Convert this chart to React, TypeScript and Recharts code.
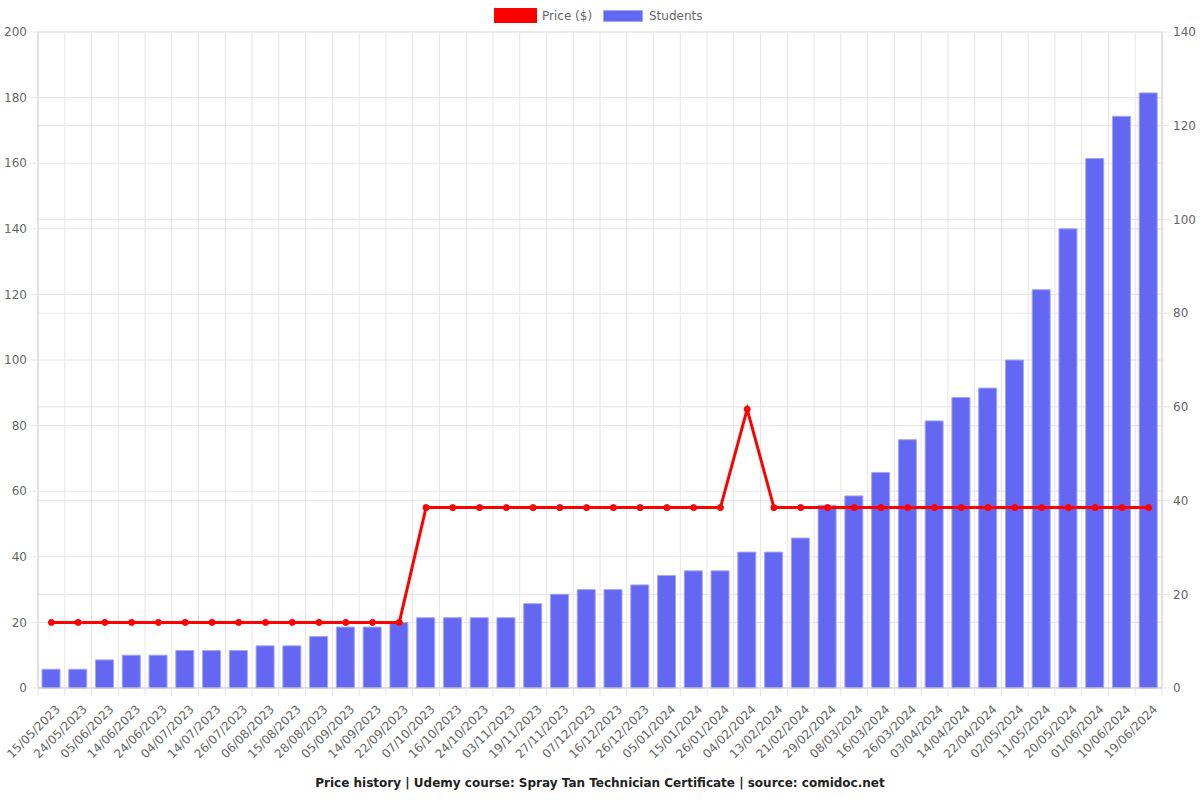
import React from "react";
import { ComposedChart, Bar, Line, XAxis, YAxis, CartesianGrid } from "recharts";

const dates = [
  "15/05/2023", "24/05/2023", "05/06/2023", "14/06/2023", "24/06/2023", "04/07/2023",
  "14/07/2023", "26/07/2023", "06/08/2023", "15/08/2023", "28/08/2023", "05/09/2023",
  "14/09/2023", "22/09/2023", "07/10/2023", "16/10/2023", "24/10/2023", "03/11/2023",
  "19/11/2023", "27/11/2023", "07/12/2023", "16/12/2023", "26/12/2023", "05/01/2024",
  "15/01/2024", "26/01/2024", "04/02/2024", "13/02/2024", "21/02/2024", "29/02/2024",
  "08/03/2024", "16/03/2024", "26/03/2024", "03/04/2024", "14/04/2024", "22/04/2024",
  "02/05/2024", "11/05/2024", "20/05/2024", "01/06/2024", "10/06/2024", "19/06/2024",
];

const price = [
  20, 20, 20, 20, 20, 20, 20, 20, 20, 20, 20, 20, 20, 20,
  55, 55, 55, 55, 55, 55, 55, 55, 55, 55, 55, 55,
  85,
  55, 55, 55, 55, 55, 55, 55, 55, 55, 55, 55, 55, 55, 55, 55,
];

const students = [
  4, 4, 6, 7, 7, 8, 8, 8, 9, 9, 11, 13, 13, 14, 15, 15, 15, 15, 18, 20, 21,
  21, 22, 24, 25, 25, 29, 29, 32, 39, 41, 46, 53, 57, 62, 64, 70, 85, 98, 113, 122, 127,
];

const priceTicks = [0, 20, 40, 60, 80, 100, 120, 140, 160, 180, 200];
const studentTicks = [0, 20, 40, 60, 80, 100, 120, 140];

const data = dates.map((d, i) => ({ date: d, price: price[i], students: students[i] }));

const FONT = "DejaVu Sans, sans-serif";
const GRID = "#e6e6e6";
const AXIS = "#cfcfcf";
const TEXT = "#666";

function XTick(props: any) {
  const { x, y, payload, index } = props;
  const off = payload && typeof payload.offset === "number" ? payload.offset : 0;
  const ax = x + 9.5;
  const ay = y + 14;
  return (
    <g>
      <line x1={x - off} y1={y - 8} x2={x - off} y2={y} stroke={GRID} />
      {index === dates.length - 1 && (
        <line x1={x + off} y1={y - 8} x2={x + off} y2={y} stroke={GRID} />
      )}
      <text
        x={ax}
        y={ay}
        textAnchor="end"
        transform={`rotate(-45, ${ax}, ${ay})`}
        fontSize={12}
        fill={TEXT}
        fontFamily={FONT}
      >
        {payload.value}
      </text>
    </g>
  );
}

export default function App() {
  return (
    <div style={{ position: "absolute", left: 0, top: 0, width: 1200, height: 800, fontFamily: FONT, background: "#fff" }}>
      <ComposedChart
        width={1200}
        height={800}
        data={data}
        margin={{ top: 32, right: 0, left: 0, bottom: 32 }}
      >
        <CartesianGrid
          yAxisId="left"
          stroke={GRID}
          verticalCoordinatesGenerator={({ offset }: any) => {
            const n = dates.length;
            return Array.from({ length: n + 1 }, (_, i) => offset.left + (offset.width * i) / n);
          }}
        />
        <CartesianGrid yAxisId="right" stroke={GRID} vertical={false} />
        <XAxis
          dataKey="date"
          interval={0}
          height={80}
          tickLine={false}
          tickSize={8}
          tickMargin={0}
          axisLine={{ stroke: AXIS }}
          tick={<XTick />}
        />
        <YAxis
          yAxisId="left"
          orientation="left"
          width={38}
          domain={[0, 200]}
          ticks={priceTicks}
          interval={0}
          tickSize={8}
          tickMargin={3}
          axisLine={{ stroke: AXIS }}
          tickLine={{ stroke: GRID }}
          tick={{ fontSize: 12, fill: TEXT, fontFamily: FONT }}
        />
        <YAxis
          yAxisId="right"
          orientation="right"
          width={38}
          domain={[0, 140]}
          ticks={studentTicks}
          interval={0}
          tickSize={8}
          tickMargin={3}
          axisLine={{ stroke: AXIS }}
          tickLine={{ stroke: GRID }}
          tick={{ fontSize: 12, fill: TEXT, fontFamily: FONT }}
        />
        <Bar
          yAxisId="right"
          dataKey="students"
          name="Students"
          barSize={18}
          fill="#6467f2"
          stroke="#a3a5f8"
          strokeWidth={1}
          isAnimationActive={false}
        />
        <Line
          yAxisId="left"
          dataKey="price"
          name="Price ($)"
          type="linear"
          stroke="#ff0000"
          strokeWidth={3}
          dot={{ r: 3, fill: "#ff0000", stroke: "#ff0000", strokeWidth: 1 }}
          activeDot={false}
          isAnimationActive={false}
        />
      </ComposedChart>

      <div style={{ position: "absolute", left: 494, top: 8, width: 43, height: 15, background: "#ff0000" }} />
      <div style={{ position: "absolute", left: 542, top: 7, height: 18, lineHeight: "18px", fontSize: 12, color: TEXT, whiteSpace: "nowrap" }}>
        Price ($)
      </div>
      <div style={{ position: "absolute", left: 603, top: 10, width: 38, height: 10, background: "#6467f2", border: "1px solid #a3a5f8" }} />
      <div style={{ position: "absolute", left: 649, top: 7, height: 18, lineHeight: "18px", fontSize: 12, color: TEXT, whiteSpace: "nowrap" }}>
        Students
      </div>

      <div style={{ position: "absolute", left: 0, top: 774, width: 1200, textAlign: "center", fontSize: 12, fontWeight: "bold", color: "#222", lineHeight: "18px" }}>
        Price history | Udemy course: Spray Tan Technician Certificate | source: comidoc.net
      </div>
    </div>
  );
}
